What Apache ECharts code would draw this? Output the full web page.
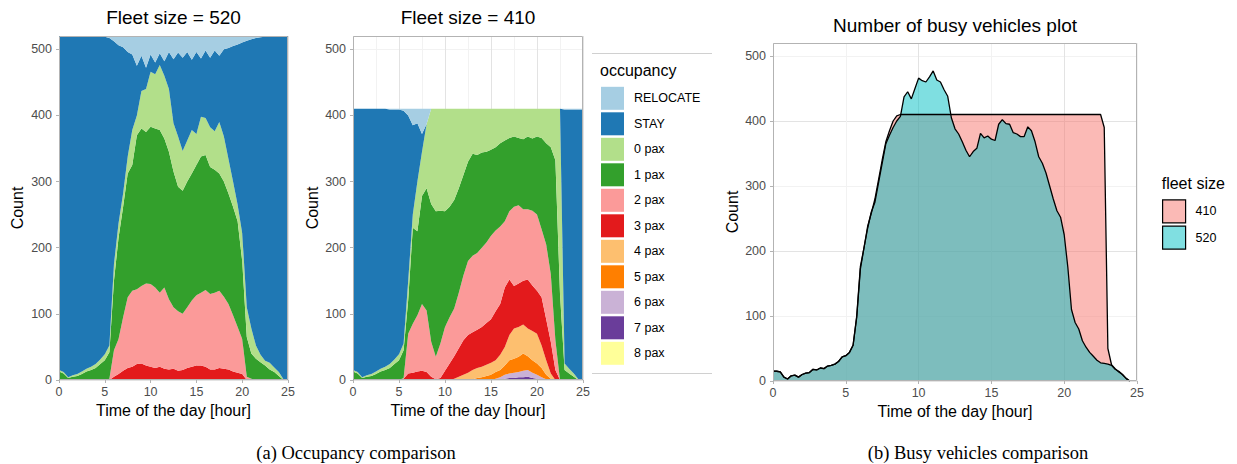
<!DOCTYPE html>
<html>
<head>
<meta charset="utf-8">
<script src="https://cdn.jsdelivr.net/npm/echarts@6/dist/echarts.min.js"></script>
<style>html,body{margin:0;padding:0;background:#fff}#c{width:1237px;height:464px}</style>
</head>
<body>
<div id="c"></div>
<script>
// ---------------- DATA ----------------
const hours = [0,0.5,1,1.5,2,2.5,3,3.5,4,4.5,5,5.5,6,6.5,7,7.5,8,8.5,9,9.5,10,10.5,11,11.5,12,12.5,13,13.5,14,14.5,15,15.5,16,16.5,17,17.5,18,18.5,19,19.5,20,20.5,21,21.5,22,22.5,23,23.5,24,24.5,25];
const quarterHours = [0,0.25,0.5,0.75,1,1.25,1.5,1.75,2,2.25,2.5,2.75,3,3.25,3.5,3.75,4,4.25,4.5,4.75,5,5.25,5.5,5.75,6,6.25,6.5,6.75,7,7.25,7.5,7.75,8,8.25,8.5,8.75,9,9.25,9.5,9.75,10,10.25,10.5,10.75,11,11.25,11.5,11.75,12,12.25,12.5,12.75,13,13.25,13.5,13.75,14,14.25,14.5,14.75,15,15.25,15.5,15.75,16,16.25,16.5,16.75,17,17.25,17.5,17.75,18,18.25,18.5,18.75,19,19.25,19.5,19.75,20,20.25,20.5,20.75,21,21.25,21.5,21.75,22,22.25,22.5,22.75,23,23.25,23.5,23.75,24,24.25,24.5];

const occupancyNames = ['RELOCATE','STAY','0 pax','1 pax','2 pax','3 pax','4 pax','5 pax','6 pax','7 pax','8 pax'];
const xTickValues = [0,5,10,15,20,25];
const yTickValues = [0,100,200,300,400,500];

// Fleet size = 520 (vehicle counts per occupancy state)
const f520_pax3 = [0,0,0,0,0,0,0,0,0,0,0,0,5,9,14,18,20,24,25,22,20,18,20,17,16,17,14,15,18,20,22,22,20,16,16,18,17,16,13,11,9,0,0,0,0,0,0,0,0,0,0];
const f520_pax2 = [0,0,0,0,0,0,0,0,0,0,0,2,40,53,81,107,115,113,117,124,125,122,112,123,106,93,90,85,92,100,106,110,116,114,116,117,109,99,85,69,53,5,2,0,0,0,0,0,0,0,0];
const f520_pax1 = [13,10,3,5,6,9,13,15,18,24,30,40,105,153,167,187,190,233,238,229,238,240,246,225,223,205,188,186,190,192,197,206,204,192,186,177,174,167,164,160,118,60,38,32,27,22,16,12,6,0,0];
const f520_pax0 = [2,2,1,2,3,4,4,5,6,7,9,10,25,22,20,26,53,30,57,65,83,82,98,95,95,73,76,60,62,66,47,60,56,60,58,78,68,52,38,25,42,45,38,20,11,7,10,7,6,1,0];
const f520_stay = [505,508,516,513,511,507,503,500,495,488,480,465,337,269,221,158,114,75,53,32,26,18,18,22,56,97,127,141,134,106,124,88,102,105,122,100,132,168,205,242,288,403,437,465,480,490,493,501,508,519,520];
const f520_relocate = [0,0,0,0,0,0,0,0,1,1,1,3,8,14,17,24,28,45,30,48,28,40,26,38,24,35,25,33,24,36,24,34,22,33,22,30,20,18,15,13,10,7,5,3,2,1,1,0,0,0,0];

// Fleet size = 410
const f410_pax8 = [0,0,0,0,0,0,0,0,0,0,0,0,0,0,0,0,0,0,0,0,0,0,0,0,0,0,0,0,0,0,0,0,0,0,0,0,0,0,0,0,0,0,0,0,0,0,0,0,0,0,0];
const f410_pax7 = [0,0,0,0,0,0,0,0,0,0,0,0,0,0,0,0,0,0,0,0,0,0,0,0,0,0,0,0,0,0,0,0,0,2,3,3,4,4,5,3,2,1,0,0,0,0,0,0,0,0,0];
const f410_pax6 = [0,0,0,0,0,0,0,0,0,0,0,0,0,0,0,0,0,0,0,0,0,0,0,0,0,0,0,0,0,0,0,2,4,6,7,8,8,10,10,8,6,3,1,0,0,0,0,0,0,0,0];
const f410_pax5 = [0,0,0,0,0,0,0,0,0,0,0,0,0,0,0,0,0,0,0,0,0,0,0,0,0,0,1,3,4,6,8,10,11,14,20,21,23,26,21,19,17,14,7,2,0,0,0,0,0,0,0];
const f410_pax4 = [0,0,0,0,0,0,0,0,0,0,0,0,0,0,0,0,0,0,0,0,0,0,2,5,8,11,14,15,16,17,18,18,23,28,38,46,45,44,42,44,45,34,22,8,0,0,0,0,0,0,0];
const f410_pax3 = [0,0,0,0,0,0,0,0,0,0,0,2,10,11,13,14,12,5,1,3,14,25,34,43,52,57,57,58,60,63,66,74,77,90,84,64,66,66,74,69,65,73,62,48,15,0,0,0,0,0,0];
const f410_pax2 = [0,0,0,0,0,0,0,0,0,0,0,1,60,74,85,101,93,53,34,52,66,70,72,84,98,112,116,116,120,122,126,122,117,100,103,120,118,108,106,113,115,103,113,102,45,0,0,0,0,0,0];
const f410_pax1 = [13,10,3,5,6,9,13,15,18,24,30,42,51,145,127,163,185,208,220,201,175,167,164,158,152,150,154,148,144,137,130,126,126,122,111,106,102,106,110,109,118,138,153,192,272,130,15,10,5,0,0];
const f410_pax0 = [2,2,1,2,3,4,4,5,6,7,9,10,29,20,75,67,97,144,155,154,155,148,138,120,100,80,68,70,66,65,62,58,52,48,44,42,44,46,42,45,42,44,52,58,78,280,10,7,5,1,0];
const f410_stay = [395,398,406,403,401,397,393,390,385,378,370,352,250,135,88,27,0,0,0,0,0,0,0,0,0,0,0,0,0,0,0,0,0,0,0,0,0,0,0,0,0,0,0,0,0,0,384,392,399,408,409];
const f410_relocate = [0,0,0,0,0,0,0,0,1,1,1,3,10,25,22,38,23,0,0,0,0,0,0,0,0,0,0,0,0,0,0,0,0,0,0,0,0,0,0,0,0,0,0,0,0,0,1,1,1,1,1];

// Busy vehicles (quarter-hour readings)
const busy410 = [15,15,14,6, 3,8,9,6, 10,12,13,18, 17,20,19,23, 24,26,30,37, 39,44,55,98, 172,205,238,258, 280,310,340,368, 385,400,408,410,
 410,410,410,410, 410,410,410,410, 410,410,410,410, 410,410,410,410, 410,410,410,410, 410,410,410,410, 410,410,410,410,
 410,410,410,410, 410,410,410,410, 410,410,410,410, 410,410,410,410, 410,410,410,410, 410,410,410,410,
 410,410,410,390, 50,25,19,14, 10,4,0];
const busy520 = [15,15,14,6, 3,8,9,6, 10,12,13,18, 17,20,19,23, 24,26,30,37, 39,44,55,100, 176,205,235,260, 275,305,335,365, 378,390,400,407,
 437,445,434,450, 466,462,460,468, 477,463,460,448, 438,405,388,380, 368,355,345,353, 358,381,374,377, 372,370,395,402,
 396,395,382,380, 376,376,391,385, 368,345,335,320, 300,280,262,252, 225,175,110,90, 80,62,52,44,
 38,32,28,27, 26,24,18,15, 10,4,0];

// ---------------- STYLE ----------------
const FONT = '"Liberation Sans", Arial, Helvetica, sans-serif';
const SERIF = '"Liberation Serif", "Times New Roman", serif';
const PALETTE = {
  'RELOCATE':'#A6CEE3','STAY':'#1F78B4','0 pax':'#B2DF8A','1 pax':'#33A02C','2 pax':'#FB9A99',
  '3 pax':'#E31A1C','4 pax':'#FDBF6F','5 pax':'#FF7F00','6 pax':'#CAB2D6','7 pax':'#6A3D9A','8 pax':'#FFFF99'
};
const MAJOR = '#e3e3e3', MINOR = '#f2f2f2', BORDER = '#b3b3b3';
const GRIDS = [
  {left:59, top:36, width:229, height:344},
  {left:353, top:36, width:230, height:344},
  {left:773, top:43, width:364, height:338}
];
const AXIS_NAME = {color:'#000', fontSize:16, fontFamily:FONT};
const TICK_LABEL = {color:'#4d4d4d', fontSize:12.5, fontFamily:FONT};

// category x axis (half-hour slots) for the stacked panels
function catXAxis(i, gap) {
  return {
    type:'category', gridIndex:i, data: hours.map(String), boundaryGap:false,
    axisLine:{show:false},
    axisTick:{show:true, length:3, interval:9, lineStyle:{color:BORDER, width:1}},
    axisLabel:Object.assign({interval:9, margin:5}, TICK_LABEL),
    splitLine:{show:true, interval:4, lineStyle:{color:[MAJOR, MINOR], width:1}},
    name:'Time of the day [hour]', nameLocation:'middle', nameGap:gap, nameTextStyle:AXIS_NAME
  };
}
function valXAxis(i, gap) {
  return {
    type:'value', gridIndex:i, min:0, max:25, interval:2.5,
    axisLine:{show:false},
    axisTick:{show:true, length:3, lineStyle:{color:BORDER, width:1}, customValues:xTickValues},
    axisLabel:Object.assign({customValues:xTickValues, margin:5,
      formatter: v => (v % 5 === 0 ? String(v) : '')}, TICK_LABEL),
    splitLine:{show:true, lineStyle:{color:[MAJOR, MINOR], width:1}},
    name:'Time of the day [hour]', nameLocation:'middle', nameGap:gap, nameTextStyle:AXIS_NAME
  };
}
function yAxisFor(i, gap) {
  return {
    type:'value', gridIndex:i, min:0, max:520, interval:50,
    axisLine:{show:false},
    axisTick:{show:true, length:3, lineStyle:{color:BORDER, width:1}, customValues:yTickValues},
    axisLabel:Object.assign({customValues:yTickValues, margin:7,
      formatter: v => (v % 100 === 0 && v <= 500 ? String(v) : '')}, TICK_LABEL),
    splitLine:{show:true, lineStyle:{color:[MAJOR, MINOR], width:1}},
    name:'Count', nameLocation:'middle', nameGap:gap, nameTextStyle:AXIS_NAME
  };
}
function stackSeries(name, values, idx, stackId) {
  return {
    type:'line', name, xAxisIndex:idx, yAxisIndex:idx, stack:stackId,
    data: values,
    symbol:'none', showSymbol:false, lineStyle:{width:0},
    areaStyle:{color:PALETTE[name], opacity:1}, itemStyle:{color:PALETTE[name]},
    silent:true, emphasis:{disabled:true}, z:2
  };
}
function busySeries(name, values, fill) {
  return {
    type:'line', name, xAxisIndex:2, yAxisIndex:2,
    data: quarterHours.map((h, k) => [h, values[k]]),
    symbol:'none', showSymbol:false, lineStyle:{color:'#000', width:1.3},
    areaStyle:{color:fill, opacity:1}, itemStyle:{color:fill},
    silent:true, emphasis:{disabled:true}, z:2
  };
}

const series = [
  stackSeries('3 pax', f520_pax3, 0, 's520'),
  stackSeries('2 pax', f520_pax2, 0, 's520'),
  stackSeries('1 pax', f520_pax1, 0, 's520'),
  stackSeries('0 pax', f520_pax0, 0, 's520'),
  stackSeries('STAY', f520_stay, 0, 's520'),
  stackSeries('RELOCATE', f520_relocate, 0, 's520'),

  stackSeries('8 pax', f410_pax8, 1, 's410'),
  stackSeries('7 pax', f410_pax7, 1, 's410'),
  stackSeries('6 pax', f410_pax6, 1, 's410'),
  stackSeries('5 pax', f410_pax5, 1, 's410'),
  stackSeries('4 pax', f410_pax4, 1, 's410'),
  stackSeries('3 pax', f410_pax3, 1, 's410'),
  stackSeries('2 pax', f410_pax2, 1, 's410'),
  stackSeries('1 pax', f410_pax1, 1, 's410'),
  stackSeries('0 pax', f410_pax0, 1, 's410'),
  stackSeries('STAY', f410_stay, 1, 's410'),
  stackSeries('RELOCATE', f410_relocate, 1, 's410'),

  busySeries('410', busy410, 'rgba(248,118,109,0.5)'),
  busySeries('520', busy520, 'rgba(0,191,196,0.5)')
];

function txt(text, x, y, size, align, family) {
  return {type:'text', x, y, silent:true, z:120,
    style:{text, fill:'#000', fontSize:size, fontFamily:family || FONT,
      align, verticalAlign:'middle', textAlign:align, textVerticalAlign:'middle'}};
}
const graphics = [
  txt('Fleet size = 520', 173.5, 17, 19, 'center'),
  txt('Fleet size = 410', 468, 17, 19, 'center'),
  txt('Number of busy vehicles plot', 955, 25, 19, 'center'),
  txt('occupancy', 600, 70.7, 16, 'left'),
  txt('fleet size', 1161.7, 183, 16, 'left'),
  txt('(a) Occupancy comparison', 356, 453, 18.5, 'center', SERIF),
  txt('(b) Busy vehicles comparison', 978, 453, 18.5, 'center', SERIF),
  {type:'line', silent:true, z:110, shape:{x1:592, y1:53.5, x2:712, y2:53.5}, style:{stroke:'#d0d0d0', lineWidth:1}},
  {type:'line', silent:true, z:110, shape:{x1:592, y1:373.5, x2:712, y2:373.5}, style:{stroke:'#d0d0d0', lineWidth:1}}
];
GRIDS.forEach(g => {
  graphics.push({type:'rect', silent:true, z:110,
    shape:{x:g.left + 0.5, y:g.top + 0.5, width:g.width - 1, height:g.height - 1},
    style:{fill:'none', stroke:BORDER, lineWidth:1}});
});

const chart = echarts.init(document.getElementById('c'), null, {renderer:'svg', width:1237, height:464});
chart.setOption({
  animation:false,
  backgroundColor:'#ffffff',
  textStyle:{fontFamily:FONT},
  grid: GRIDS.map(g => Object.assign({outerBoundsMode:'none', containLabel:false, show:false}, g)),
  xAxis:[catXAxis(0, 20), catXAxis(1, 20), valXAxis(2, 19)],
  yAxis:[yAxisFor(0, 34), yAxisFor(1, 33), yAxisFor(2, 33)],
  legend:[
    {orient:'vertical', left:601, top:86.8, padding:0, itemWidth:23, itemHeight:23, itemGap:2.5,
     icon:'rect', selectedMode:false,
     data: occupancyNames.map(n => ({name:n, itemStyle:{color:PALETTE[n], borderWidth:0}})),
     textStyle:{fontSize:12.5, color:'#000', fontFamily:FONT, padding:[0,0,0,5]}},
    {orient:'vertical', left:1162, top:199.3, padding:0, itemWidth:23, itemHeight:23, itemGap:2,
     icon:'rect', selectedMode:false,
     data:[{name:'410', itemStyle:{color:'#FBBAB6', borderColor:'#000', borderWidth:1.2}},
           {name:'520', itemStyle:{color:'#80DFE1', borderColor:'#000', borderWidth:1.2}}],
     textStyle:{fontSize:12.5, color:'#000', fontFamily:FONT, padding:[0,0,0,5]}}
  ],
  graphic: graphics,
  series
});
</script>
</body>
</html>
